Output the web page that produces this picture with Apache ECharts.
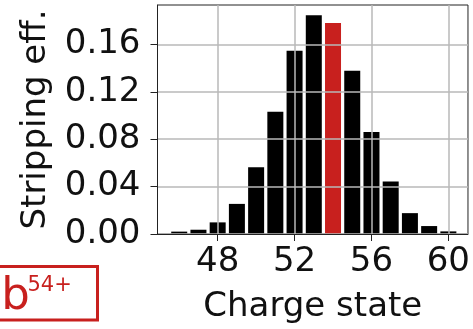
<!DOCTYPE html>
<html>
<head>
<meta charset="utf-8">
<script src="https://cdn.jsdelivr.net/npm/echarts@6/dist/echarts.min.js"></script>
<style>
html,body{margin:0;padding:0;background:#fff;}
#chart{width:473px;height:329px;}
</style>
</head>
<body>
<div id="chart"></div>
<script>
// Data
const chargeStates = [46, 47, 48, 49, 50, 51, 52, 53, 54, 55, 56, 57, 58, 59, 60];
const strippingEff = [0.002, 0.0036, 0.0098, 0.0254, 0.0563, 0.1031, 0.1547, 0.1845, 0.178, 0.1377, 0.0861, 0.0443, 0.0176, 0.0067, 0.0022];
const highlightState = 54;
const xTicks = [48, 52, 56, 60];
const yTicks = [0, 0.04, 0.08, 0.12, 0.16];
const xLabel = 'Charge state';
const yLabel = 'Stripping eff.';
const ionName = 'Pb';
const ionCharge = '54+';

const FONT = 'DejaVu Sans';
const RED = '#c8201e';

const chart = echarts.init(document.getElementById('chart'), null, {renderer: 'canvas'});
chart.setOption({
  animation: false,
  backgroundColor: '#fff',
  grid: {
    left: 157.5, right: 1.5, top: 5, bottom: 92.7,
    show: true, borderColor: '#222', borderWidth: 1, backgroundColor: 'transparent'
  },
  xAxis: {
    type: 'value', min: 44.87, max: 61.02, z: 5,
    name: xLabel, nameLocation: 'middle', nameGap: 56,
    nameTextStyle: {fontFamily: FONT, fontSize: 34, color: '#111'},
    axisLine: {show: true, onZero: false, lineStyle: {color: '#222', width: 1}},
    axisTick: {show: true, customValues: xTicks, length: 7, lineStyle: {color: '#222'}},
    axisLabel: {customValues: xTicks, fontFamily: FONT, fontSize: 34, color: '#111', margin: 11},
    splitLine: {show: true, lineStyle: {color: '#b8b8b8', width: 1.5}}
  },
  yAxis: {
    type: 'value', min: 0, max: 0.1932, z: 5,
    name: yLabel, nameLocation: 'middle', nameGap: 104, nameRotate: 90,
    nameTextStyle: {fontFamily: FONT, fontSize: 34, color: '#111'},
    axisLine: {show: true, lineStyle: {color: '#222', width: 1}},
    axisTick: {show: true, customValues: yTicks, length: 7, lineStyle: {color: '#222'}},
    axisLabel: {customValues: yTicks, fontFamily: FONT, fontSize: 34, color: '#111', margin: 17,
      formatter: v => Number(v).toFixed(2)},
    splitLine: {show: true, lineStyle: {color: '#b8b8b8', width: 1.5}}
  },
  series: [{
    type: 'bar',
    barWidth: 16,
    data: chargeStates.map((c, i) => [c, strippingEff[i]]),
    itemStyle: {
      color: p => (chargeStates[p.dataIndex] === highlightState ? RED : '#000')
    }
  }],
  graphic: [
    {type: 'rect', shape: {x: -40, y: 266.5, width: 137.5, height: 53.5},
     style: {fill: '#fff', stroke: RED, lineWidth: 3}, z: 10},
    {type: 'text', x: -26, y: 275, z: 11,
     style: {text: ionName, font: '45px "DejaVu Sans"', fill: RED, textVerticalAlign: 'top'}},
    {type: 'text', x: 27.5, y: 275, z: 11,
     style: {text: ionCharge, font: '21px "DejaVu Sans"', fill: RED, textVerticalAlign: 'top'}}
  ]
});
</script>
</body>
</html>
